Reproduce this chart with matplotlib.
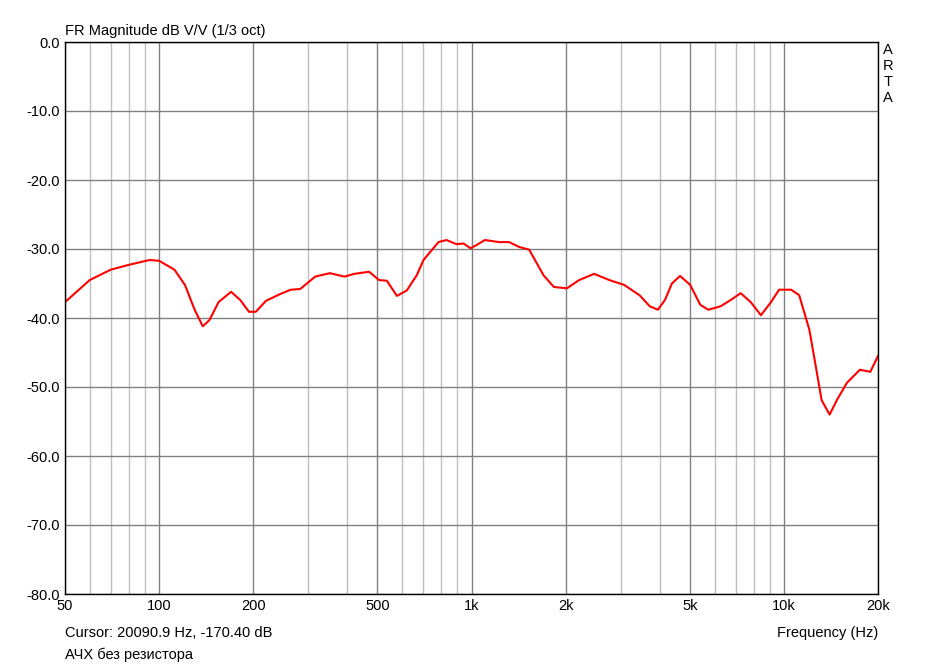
import matplotlib
matplotlib.use("Agg")
import matplotlib.pyplot as plt
from matplotlib.ticker import FixedLocator, NullFormatter

plt.rcParams['font.family'] = ['Liberation Sans', 'DejaVu Sans']

freq = [50, 60, 70, 80, 93, 100, 112, 121, 130, 138, 145, 155, 170, 182, 194, 204, 220, 245, 264, 283,
        316, 352, 392, 422, 470, 506, 536, 577, 621, 668, 702, 784, 832, 895, 943, 993, 1040, 1104, 1226,
        1320, 1420, 1530, 1700, 1835, 2020, 2210, 2470, 2760, 3080, 3450, 3720, 3950, 4160, 4380, 4650,
        5010, 5400, 5730, 6270, 6750, 7270, 7830, 8440, 9090, 9650, 10550, 11190, 12060, 12700, 13200,
        14000, 14770, 15900, 17500, 18900, 20000]
mag = [-37.7, -34.5, -33.0, -32.3, -31.6, -31.7, -33.0, -35.2, -38.8, -41.2, -40.3, -37.7, -36.2, -37.4,
       -39.1, -39.1, -37.5, -36.5, -35.9, -35.8, -34.0, -33.5, -34.0, -33.6, -33.3, -34.5, -34.6, -36.8,
       -36.0, -33.8, -31.6, -29.0, -28.7, -29.3, -29.2, -29.9, -29.4, -28.7, -29.0, -29.0, -29.7, -30.1,
       -33.8, -35.5, -35.7, -34.5, -33.6, -34.5, -35.2, -36.7, -38.3, -38.8, -37.4, -35.0, -33.9, -35.2,
       -38.1, -38.8, -38.3, -37.4, -36.4, -37.7, -39.6, -37.7, -35.9, -35.9, -36.7, -41.7, -47.5, -51.9,
       -54.0, -51.9, -49.4, -47.5, -47.8, -45.5]

major_ticks = [50, 100, 200, 500, 1000, 2000, 5000, 10000, 20000]
major_labels = ['50', '100', '200', '500', '1k', '2k', '5k', '10k', '20k']
minor_ticks = [60, 70, 80, 90, 300, 400, 600, 700, 800, 900, 3000, 4000, 6000, 7000, 8000, 9000]
y_ticks = [0, -10, -20, -30, -40, -50, -60, -70, -80]

fig = plt.figure(figsize=(9.42, 6.66), dpi=100)
ax = fig.add_axes([65/942, 1-594/666, 813/942, 552/666])
ax.set_xscale('log')
ax.set_xlim(50, 20000)
ax.set_ylim(-80, 0)
ax.xaxis.set_major_locator(FixedLocator(major_ticks))
ax.set_xticklabels(major_labels)
ax.xaxis.set_minor_locator(FixedLocator(minor_ticks))
ax.xaxis.set_minor_formatter(NullFormatter())
ax.set_yticks(y_ticks)
ax.set_yticklabels([f'{v:.1f}' for v in y_ticks])
ax.grid(True, which='major', color='#808080', lw=1)
ax.grid(True, which='minor', axis='x', color='#c0c0c0', lw=1)
ax.tick_params(which='both', length=0, labelsize=10.5)
for s in ax.spines.values():
    s.set_color('black'); s.set_linewidth(1)

ax.plot(freq, mag, color='#ff0000', lw=1.5)

fig.text(65/942, 1-31/666, 'FR Magnitude dB V/V (1/3 oct)', fontsize=10.5, va='center')
for i, ch in enumerate('ARTA'):
    fig.text(888/942, 1-(50+i*16)/666, ch, fontsize=10.5, ha='center', va='center')
fig.text(65/942, 1-633/666, 'Cursor: 20090.9 Hz, -170.40 dB', fontsize=10.5, va='center')
fig.text(878/942, 1-633/666, 'Frequency (Hz)', fontsize=10.5, va='center', ha='right')
fig.text(65/942, 1-655/666, 'АЧХ без резистора', fontsize=10.5, va='center')

fig.savefig('out.png', dpi=100)
